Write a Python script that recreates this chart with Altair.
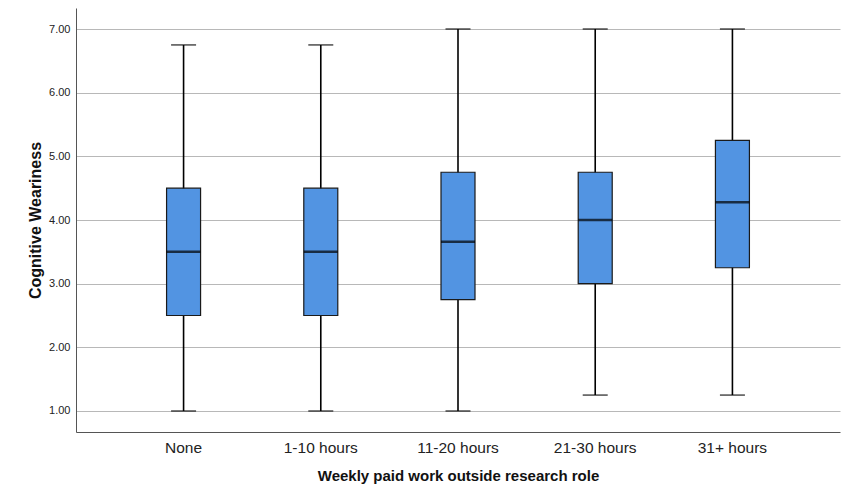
import altair as alt
import pandas as pd

categories = ["None", "1-10 hours", "11-20 hours", "21-30 hours", "31+ hours"]
whisker_low = [1.00, 1.00, 1.00, 1.25, 1.25]
q1 = [2.50, 2.50, 2.75, 3.00, 3.25]
median = [3.50, 3.50, 3.66, 4.00, 4.28]
q3 = [4.50, 4.50, 4.75, 4.75, 5.25]
whisker_high = [6.75, 6.75, 7.00, 7.00, 7.00]
y_ticks = [1, 2, 3, 4, 5, 6, 7]

df = pd.DataFrame({
    "cat": categories,
    "lo": whisker_low,
    "q1": q1,
    "med": median,
    "q3": q3,
    "hi": whisker_high,
})

FONT = "Liberation Sans"

x_enc = alt.X(
    "cat:N",
    sort=categories,
    scale=alt.Scale(paddingInner=0, paddingOuter=0.284),
    axis=alt.Axis(
        title="Weekly paid work outside research role",
        labelAngle=0,
        labelFontSize=15.5,
        labelFont=FONT,
        labelColor="#222222",
        labelPadding=8,
        ticks=False,
        domainColor="#555555",
        titleFont=FONT,
        titleFontSize=15,
        titleFontWeight="bold",
        titleColor="#111111",
        titlePadding=13,
        grid=False,
    ),
)

y_scale = alt.Scale(domain=[0.67, 7.33], nice=False, zero=False)

base = alt.Chart(df).encode(x=x_enc)

whiskers = base.mark_rule(color="black", strokeWidth=1.6).encode(
    y=alt.Y(
        "lo:Q",
        scale=y_scale,
        axis=alt.Axis(
            title="Cognitive Weariness",
            values=y_ticks,
            format=".2f",
            labelFontSize=11,
            labelFont=FONT,
            labelColor="#222222",
            ticks=False,
            labelPadding=6,
            domainColor="#555555",
            gridColor="#b8b8b8",
            gridWidth=1,
            titleFont=FONT,
            titleFontSize=16,
            titleFontWeight="bold",
            titleColor="#111111",
            titlePadding=5,
        ),
    ),
    y2="hi:Q",
)

boxes = base.mark_bar(size=34, color="#5294E2", stroke="#1a1a1a", strokeWidth=1.2).encode(
    y=alt.Y("q1:Q", scale=y_scale),
    y2="q3:Q",
)

med_ticks = base.mark_tick(size=34, thickness=2.5, color="black").encode(
    y=alt.Y("med:Q", scale=y_scale),
)

cap_lo = base.mark_tick(size=25, thickness=1.5, color="black").encode(
    y=alt.Y("lo:Q", scale=y_scale),
)
cap_hi = base.mark_tick(size=25, thickness=1.5, color="black").encode(
    y=alt.Y("hi:Q", scale=y_scale),
)

chart = (
    alt.layer(whiskers, boxes, med_ticks, cap_lo, cap_hi)
    .properties(
        width=764,
        height=424,
        autosize=alt.AutoSizeParams(type="none"),
        padding={"left": 68, "top": 0, "right": 6, "bottom": 64},
        view=alt.ViewBackground(stroke="transparent", strokeWidth=0),
    )
    .configure_view(stroke="transparent", strokeWidth=0)
    .configure(background="white")
)

chart.save("out.html", embed_options={"renderer": "svg", "actions": False})
